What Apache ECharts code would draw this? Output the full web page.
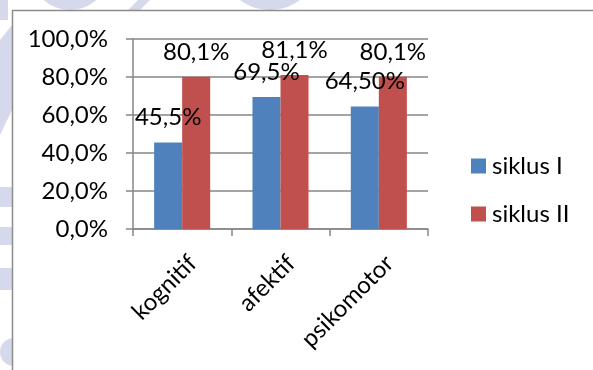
<!DOCTYPE html>
<html>
<head>
<meta charset="utf-8">
<script src="https://cdn.jsdelivr.net/npm/echarts@6/dist/echarts.min.js"></script>
<style>
  html, body { margin: 0; padding: 0; background: #fff; }
  #chart { width: 593px; height: 370px; }
</style>
</head>
<body>
<div id="chart"></div>
<script>
var categories = ['kognitif', 'afektif', 'psikomotor'];
var siklus1 = [0.455, 0.695, 0.645];
var siklus2 = [0.801, 0.811, 0.801];
var labels1 = ['45,5%', '69,5%', '64,50%'];
var labels2 = ['80,1%', '81,1%', '80,1%'];
var yTicks = [0, 0.2, 0.4, 0.6, 0.8, 1.0];

var font = 'Lato';
var wm = '#d6d9ec';

var myChart = echarts.init(document.getElementById('chart'));
var option = {
    animation: false,
    color: ['#4F81BD', '#C0504D'],
    textStyle: { fontFamily: font },
    graphic: [
        // faint watermark outside the chart frame
        { type: 'rect', z: -2, shape: { x: 0, y: 0, width: 8, height: 20 }, style: { fill: wm } },
        { type: 'polygon', z: -2, shape: { points: [[0, 40], [12, 25], [12, 110], [0, 135]] }, style: { fill: wm } },
        { type: 'rect', z: -2, shape: { x: 0, y: 187, width: 12, height: 20 }, style: { fill: wm } },
        { type: 'rect', z: -2, shape: { x: 0, y: 227, width: 12, height: 18 }, style: { fill: wm } },
        { type: 'rect', z: -2, shape: { x: 0, y: 268, width: 12, height: 22 }, style: { fill: wm } },
        { type: 'circle', z: -2, shape: { cx: 14, cy: 352, r: 14 }, style: { fill: wm } },
        { type: 'circle', z: -2, shape: { cx: 70, cy: -30, r: 40 }, style: { fill: wm } },
        { type: 'circle', z: -2, shape: { cx: 270, cy: -40, r: 50 }, style: { fill: wm } },
        { type: 'polygon', z: -2, shape: { points: [[128, 10], [138, 0], [150, 0], [140, 10]] }, style: { fill: wm } },
        // chart frame
        { type: 'rect', z: -1, shape: { x: 12.5, y: 10.5, width: 620, height: 420 },
          style: { fill: '#fff', stroke: '#8c8c8c', lineWidth: 1.5 } }
    ],
    legend: {
        orient: 'vertical',
        left: 471,
        top: 154,
        padding: 0,
        itemWidth: 15,
        itemHeight: 15,
        itemGap: 24,
        icon: 'rect',
        textStyle: { fontFamily: font, fontSize: 24, color: '#000', padding: [0, 0, 0, 1] },
        data: ['siklus I', 'siklus II']
    },
    grid: {
        left: 133,
        top: 39,
        width: 295,
        height: 190
    },
    xAxis: {
        type: 'category',
        data: categories,
        axisLine: { lineStyle: { color: '#868686', width: 1.5 } },
        axisTick: { show: true, length: 7, lineStyle: { color: '#868686', width: 1.5 } },
        axisLabel: {
            rotate: 45, margin: 24, fontSize: 24, color: '#000', fontFamily: font,
            verticalAlign: 'top', padding: [0, -3, 0, 0]
        }
    },
    yAxis: {
        type: 'value',
        min: 0,
        max: 1,
        interval: 0.2,
        axisLine: { show: true, lineStyle: { color: '#868686', width: 1.5 } },
        axisTick: { show: true, length: 7, lineStyle: { color: '#868686', width: 1.5 } },
        splitLine: { lineStyle: { color: '#868686', width: 1.5 } },
        axisLabel: {
            fontSize: 24, color: '#000', fontFamily: font, margin: 25,
            formatter: function (v) { return (v * 100).toFixed(1).replace('.', ',') + '%'; }
        }
    },
    series: [
        {
            name: 'siklus I',
            type: 'bar',
            barGap: 0,
            barCategoryGap: '43%',
            data: siklus1,
            label: {
                show: true, position: 'top', distance: 13,
                fontSize: 24, color: '#000', fontFamily: font,
                formatter: function (p) { return labels1[p.dataIndex]; }
            }
        },
        {
            name: 'siklus II',
            type: 'bar',
            barGap: 0,
            barCategoryGap: '43%',
            data: siklus2,
            label: {
                show: true, position: 'top', distance: 13,
                fontSize: 24, color: '#000', fontFamily: font,
                formatter: function (p) { return labels2[p.dataIndex]; }
            }
        }
    ]
};
myChart.setOption(option);
</script>
</body>
</html>
